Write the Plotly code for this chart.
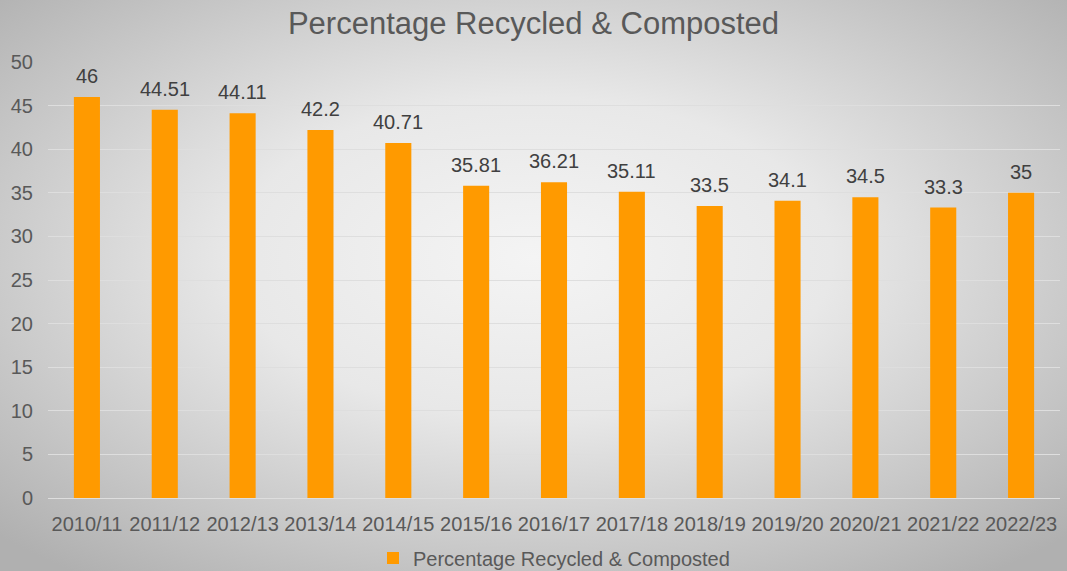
import base64
import plotly.graph_objects as go

# Financial years and the share of household waste recycled & composted (%)
years = ["2010/11", "2011/12", "2012/13", "2013/14", "2014/15", "2015/16", "2016/17",
         "2017/18", "2018/19", "2019/20", "2020/21", "2021/22", "2022/23"]
recycled_pct = [46, 44.51, 44.11, 42.2, 40.71, 35.81, 36.21, 35.11, 33.5, 34.1, 34.5, 33.3, 35]
y_ticks = [0, 5, 10, 15, 20, 25, 30, 35, 40, 45, 50]

W, H = 1067, 571
ML, MR, MT, MB = 48, 7, 62, 73
FONT = "Liberation Sans, Arial, sans-serif"
TEXT = "#595959"
BAR = "#FF9A00"

# Soft radial backdrop, drawn as an SVG stretched over the full figure
svg = f"""<svg xmlns='http://www.w3.org/2000/svg' width='{W}' height='{H}'>
<defs><radialGradient id='g' cx='50%' cy='45%' r='70%'>
<stop offset='0' stop-color='#F4F4F4'/><stop offset='0.4' stop-color='#E8E8E8'/>
<stop offset='1' stop-color='#B0B0B0'/></radialGradient></defs>
<rect width='{W}' height='{H}' fill='url(#g)'/></svg>"""
bg_src = "data:image/svg+xml;base64," + base64.b64encode(svg.encode()).decode()

pw, ph = W - ML - MR, H - MT - MB

fig = go.Figure(go.Bar(
    x=years, y=recycled_pct,
    name="Percentage Recycled & Composted",
    marker=dict(color=BAR, line=dict(width=0)),
))

# Value labels above each bar
annotations = [
    dict(x=yr, y=v, xref="x", yref="y", text=f"{v:g}", showarrow=False,
         yanchor="bottom", yshift=8,
         font=dict(family=FONT, size=20, color="#404040"))
    for yr, v in zip(years, recycled_pct)
]

fig.update_layout(
    width=W, height=H,
    margin=dict(l=ML, r=MR, t=MT, b=MB, autoexpand=False),
    paper_bgcolor="#D9D9D9",
    plot_bgcolor="rgba(0,0,0,0)",
    bargap=0.665,
    title=dict(text="Percentage Recycled & Composted", x=0.5, xanchor="center",
               y=1 - 23 / H, yanchor="middle",
               font=dict(family=FONT, size=31, color=TEXT)),
    font=dict(family=FONT, color=TEXT),
    showlegend=True,
    legend=dict(orientation="h", x=0.5, xanchor="center", y=-(558 - MT - ph) / ph,
                yanchor="middle", bgcolor="rgba(0,0,0,0)",
                font=dict(family=FONT, size=20, color=TEXT),
                itemwidth=30, tracegroupgap=0),
    annotations=annotations,
    images=[dict(source=bg_src, xref="paper", yref="paper",
                 x=-ML / pw, y=1 + MT / ph, sizex=W / pw, sizey=H / ph,
                 xanchor="left", yanchor="top", sizing="stretch", layer="below")],
)

fig.update_xaxes(
    type="category", tickangle=0, showgrid=False, showline=False, ticks="",
    tickfont=dict(family=FONT, size=20, color=TEXT), ticklabelstandoff=12,
)
fig.update_yaxes(
    range=[0, 50], tickvals=y_ticks, showgrid=True, gridcolor="#DEDEDE", gridwidth=1,
    zeroline=True, zerolinecolor="#DEDEDE", zerolinewidth=1, showline=False, ticks="",
    tickfont=dict(family=FONT, size=20, color=TEXT), ticklabelstandoff=14,
)

fig.write_html("out.html")
